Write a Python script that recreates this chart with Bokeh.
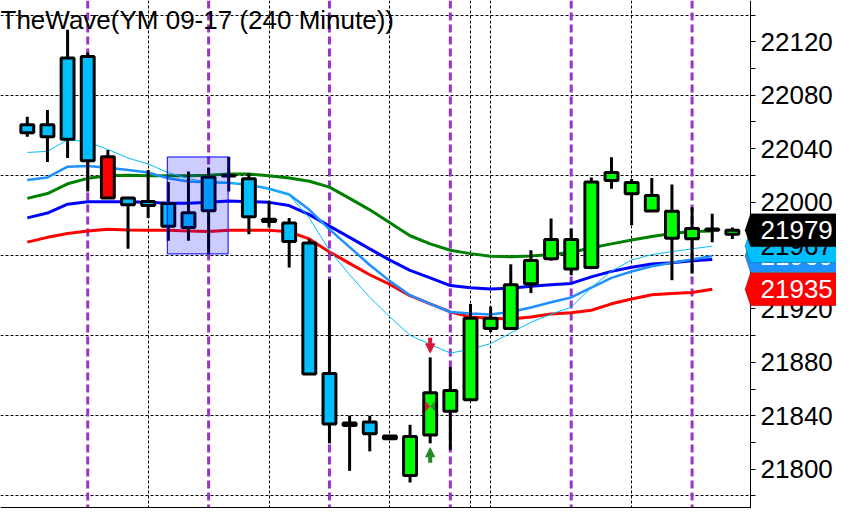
import math
from bokeh.plotting import figure
from bokeh.models import (Range1d, FixedTicker, Span, BoxAnnotation, Arrow, NormalHead,
                          Label, PolyAnnotation, ColumnDataSource)
from bokeh.embed import file_html
from bokeh.resources import INLINE

# ---------------- data ----------------
title_text = "TheWave(YM 09-17 (240 Minute))"

bar_idx = list(range(36))
opens = [22052, 22049, 22047, 22109, 22034, 22003, 22000.5, 21999, 21992, 21993.6,
         22019.5, 22017.5, 21987.2, 21984.3, 21969.4, 21871.7, 21834.5, 21835.3, 21824.8, 21795.3,
         21825.6, 21843.4, 21852, 21913, 21905.4, 21938.9, 21957.6, 21972, 21951, 22016.1,
         22014.6, 22004.9, 21993.2, 21972.6, 21979.9, 21976]
highs = [22064, 22069, 22129, 22112, 22039, 22004, 22024, 22015, 22023, 22026,
         22034, 22021.5, 22001, 21988, 21972.4, 21942.5, 21840, 21840, 21824.8, 21833.2,
         21883.7, 21876.4, 21923.7, 21921.8, 21953.4, 21963.9, 21987.7, 21980.2, 22018.5, 22033.6,
         22017.3, 22018, 22013.2, 21996.2, 21991.3, 21981]
lows = [22049, 22030, 22033, 22008, 22003, 21965, 21988, 21971, 21971, 21961,
        22008, 21976, 21981, 21951, 21871.3, 21819.3, 21798.7, 21813.3, 21822.8, 21790,
        21819.3, 21814.4, 21852, 21902.6, 21905.4, 21931.8, 21956.1, 21945.2, 21949.8, 22010,
        21982.6, 21993.3, 21941.5, 21946.4, 21970, 21972.4]
closes = [22058, 22058, 22108, 22031, 22003, 21998, 21997.5, 21982, 21981, 22018.6,
          22020, 21989, 21985.5, 21970.4, 21871.3, 21833.7, 21832.6, 21826.4, 21822.8, 21824.4,
          21857.2, 21858.9, 21913, 21905.4, 21938, 21956.3, 21972, 21949.8, 22015, 22022.2,
          22006.2, 21993.3, 21972.9, 21980.3, 21978.9, 21979]
trend = ["down"] * 4 + ["alert"] + ["down"] * 14 + ["up"] * 17

ma_idx = list(range(35))
ma_fast = [22037.2, 22038, 22046.7, 22045.3, 22039.4, 22033, 22028.5, 22022, 22017.6, 22014.6,
           22014.4, 22013, 22010, 22005.2, 21988.2, 21963.8, 21945.6, 21928.6, 21914, 21900.2,
           21893.4, 21886.9, 21889.8, 21894, 21902, 21910, 21916, 21921.3, 21936, 21948.3,
           21956.6, 21960.7, 21962.9, 21965, 21967]
ma_mid = [22016.6, 22018.5, 22026.5, 22027, 22025.8, 22024.1, 22022.2, 22017.8, 22015.4, 22014.9,
          22014.4, 22013, 22010, 22005.7, 21994.2, 21979.6, 21966.3, 21952.9, 21940.8, 21930.3,
          21923.8, 21917.7, 21916.5, 21915.8, 21917.7, 21921, 21925, 21928.6, 21936, 21943.2,
          21948, 21952, 21954.5, 21957, 21959.6]
ma_green = [22002.8, 22006.4, 22013.7, 22017.8, 22019.7, 22020.2, 22019.7, 22019.7, 22019.7, 22020.2,
            22021, 22021, 22019.7, 22018, 22015.6, 22011.2, 22002.8, 21994.2, 21984.5, 21974.8,
            21968.7, 21963.9, 21961.4, 21959.5, 21959, 21959.6, 21960.7, 21962.2, 21965.8, 21968.7,
            21971.6, 21974.2, 21976.4, 21978, 21978.4]
ma_blue = [21988.2, 21991.8, 21998.4, 22000.3, 22000.3, 22000.3, 21999.8, 21999.1, 21999.1, 21999.8,
           22000.8, 22000.3, 21999.8, 21997.4, 21990.6, 21982, 21973.6, 21965, 21956.5, 21948.8,
           21943.2, 21937.5, 21935.9, 21935, 21935.4, 21937, 21938.1, 21939.1, 21944, 21948.1,
           21951.2, 21953.6, 21954.6, 21956.1, 21957]
ma_red = [21970, 21973.6, 21976.5, 21978.4, 21979.6, 21979.1, 21978.9, 21978.9, 21978.4, 21977.9,
          21978.9, 21978.9, 21978.9, 21977.7, 21972.4, 21962.7, 21954.1, 21945.6, 21938.3, 21929.9,
          21923.8, 21917.7, 21914, 21913, 21912.4, 21914, 21916.2, 21917.2, 21919, 21923.8,
          21927.4, 21930.6, 21931.5, 21932.3, 21934.7]

session_idx = [3, 9, 15, 21, 27, 33]
vgrid_idx = [6, 12, 18, 22, 23, 30]
hgrid_levels = [21780, 21840, 21900, 21960, 22020, 22080, 22140]
label_levels = [21800, 21840, 21880, 21920, 21960, 22000, 22040, 22080, 22120]
minor_levels = [21780, 21820, 21860, 21900, 21940, 21980, 22020, 22060, 22100, 22140]

zone_left, zone_right, zone_low, zone_high = 6.95, 9.97, 21961.2, 22033.8
sell_idx = [20]
buy_idx = [20]
bowtie_idx = [20]
bowtie_price = [21847]

# ---------------- layout ----------------
W, H = 836, 508
X0, XAXIS = -1.33, 35.9          # left edge of the chart, position of the price axis
AXIS_PX = 750                    # pixel column of the price axis inside the figure
px_x = AXIS_PX / (XAXIS - X0)
X1 = X0 + W / px_x
Y0, Y1 = 21770.5, 22151.0
px_y = H / (Y1 - Y0)

FONT = "Liberation Sans"
color_map = {"down": "#00BFFF", "alert": "#FF0000", "up": "#00FF00"}

p = figure(width=W, height=H, x_range=Range1d(X0, X1), y_range=Range1d(Y0, Y1),
           x_axis_location=None, y_axis_location="right", output_backend="svg",
           toolbar_location=None, min_border_left=0, min_border_top=0,
           min_border_bottom=0, min_border_right=0)
p.background_fill_color = "white"
p.border_fill_color = "white"
p.outline_line_color = None

ax = p.yaxis[0]
ax.fixed_location = XAXIS
ax.ticker = FixedTicker(ticks=label_levels, minor_ticks=minor_levels)
ax.major_tick_in = 0
ax.major_tick_out = 5
ax.minor_tick_in = 0
ax.minor_tick_out = 5
ax.major_tick_line_color = "black"
ax.minor_tick_line_color = "black"
ax.axis_line_color = "black"
ax.axis_line_width = 1
ax.major_label_standoff = 5
ax.major_label_text_font = FONT
ax.major_label_text_font_size = "26px"
ax.major_label_text_color = "black"

p.xgrid.ticker = FixedTicker(ticks=vgrid_idx)
p.ygrid.ticker = FixedTicker(ticks=hgrid_levels)
p.grid.grid_line_color = "black"
p.grid.grid_line_dash = "3 2"
p.grid.grid_line_width = 1

for i in session_idx:
    p.add_layout(Span(location=i, dimension="height", line_color="#9933CC",
                      line_width=3, line_dash="8 4", level="underlay"))

# bottom border of the chart area
p.add_layout(Span(location=Y0 + 0.8 / px_y, dimension="width", line_color="black",
                  line_width=1.5, level="underlay"))
# blank the price-axis column (grid lines stop at the axis)
p.add_layout(BoxAnnotation(left=XAXIS, fill_color="white", fill_alpha=1,
                           line_color=None, level="underlay"))

# moving averages
p.line(ma_idx, ma_red, line_color="#FF0000", line_width=3)
p.line(ma_idx, ma_blue, line_color="#0000FF", line_width=3)
p.line(ma_idx, ma_green, line_color="#008000", line_width=3)
p.line(ma_idx, ma_mid, line_color="#1E90FF", line_width=2.5)
p.line(ma_idx, ma_fast, line_color="#00BFFF", line_width=1)

# candles
src = ColumnDataSource(dict(
    x=bar_idx, high=highs, low=lows,
    top=[max(o, c) for o, c in zip(opens, closes)],
    bottom=[min(o, c) for o, c in zip(opens, closes)],
    color=[color_map[t] for t in trend]))
p.segment(x0="x", y0="low", x1="x", y1="high", source=src, line_color="black", line_width=3)
p.vbar(x="x", width=0.64, top="top", bottom="bottom", source=src,
       fill_color="color", line_color="black", line_width=3)

# bow-tie marker
hh = 5.5 / px_y
ww = 5 / px_x
p.patches(xs=[[i - ww, i, i - ww] for i in bowtie_idx],
          ys=[[y + hh, y, y - hh] for y in bowtie_price],
          fill_color="#DC143C", line_color=None)
p.patches(xs=[[i + ww, i, i + ww] for i in bowtie_idx],
          ys=[[y + hh, y, y - hh] for y in bowtie_price],
          fill_color="#2E8B2E", line_color=None)

# zone
p.add_layout(BoxAnnotation(left=zone_left, right=zone_right, bottom=zone_low, top=zone_high,
                           fill_color="#0000FF", fill_alpha=0.2,
                           line_color="#0000FF", line_width=1, line_alpha=1))

# signal arrows
gap = 4.5 / px_y
alen = 15 / px_y
for i in sell_idx:
    p.add_layout(Arrow(x_start=i, y_start=highs[i] + gap + alen, x_end=i, y_end=highs[i] + gap,
                       line_color="#DC143C", line_width=4,
                       end=NormalHead(size=9, fill_color="#DC143C", line_color="#DC143C", line_width=1)))
for i in buy_idx:
    p.add_layout(Arrow(x_start=i, y_start=lows[i] - gap - alen, x_end=i, y_end=lows[i] - gap,
                       line_color="#228B22", line_width=4,
                       end=NormalHead(size=9, fill_color="#228B22", line_color="#228B22", line_width=1)))

# price tags on the axis
tags = [(ma_mid[-1], "#1E90FF", "white"),
        (ma_fast[-1], "#00BFFF", "black"),
        (ma_red[-1], "#FF0000", "white"),
        (closes[-1], "#000000", "white")]
half = 16.5 / px_y
tip = 5.5 / px_x
for v, bg, fg in tags:
    p.add_layout(PolyAnnotation(xs=[XAXIS - tip, XAXIS, X1 + 1, X1 + 1, XAXIS],
                                ys=[v, v + half, v + half, v - half, v - half],
                                fill_color=bg, fill_alpha=1, line_color="#222222", line_width=1,
                                level="overlay"))
    p.add_layout(Label(x=XAXIS, y=v, x_offset=10, text=f"{v:.0f}", text_baseline="middle",
                       text_align="left", text_font=FONT, text_font_size="26px", text_color=fg,
                       level="overlay"))

p.add_layout(Label(x=X0, y=Y1, x_offset=0, y_offset=-4, text=title_text, text_baseline="top",
                   text_align="left", text_font=FONT, text_font_size="26px", text_color="black"))

open("out.html", "w").write(file_html(p, INLINE))
